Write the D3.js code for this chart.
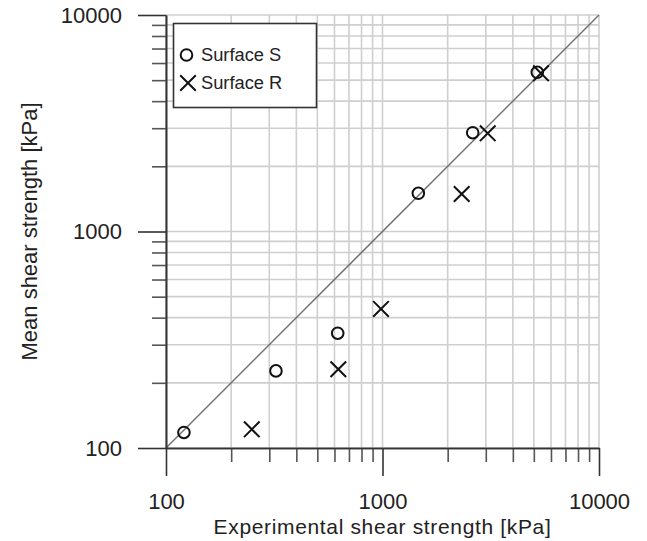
<!DOCTYPE html>
<html>
<head>
<meta charset="utf-8">
<script src="https://cdn.jsdelivr.net/npm/d3@7"></script>
<style>
  html, body { margin: 0; padding: 0; background: #fff; }
  svg { display: block; font-family: "Liberation Sans", Arial, sans-serif; }
</style>
</head>
<body>
<svg id="chart" width="647" height="541"></svg>
<script>
// Axis ticks (log scale, both axes identical)
const majorTicks = [100, 1000, 10000];
const minorTicks = [200, 300, 400, 500, 600, 700, 800, 900,
                    2000, 3000, 4000, 5000, 6000, 7000, 8000, 9000];
const tickLabels = ["100", "1000", "10000"];

// Surface S (circles)
const surfaceSX = [121, 322, 621, 1464, 2610, 5188];
const surfaceSY = [118, 227, 339, 1501, 2860, 5436];
// Surface R (crosses)
const surfaceRX = [249, 625, 984, 2321, 3062, 5397];
const surfaceRY = [122, 231, 439, 1490, 2841, 5379];

// 1:1 line end points
const equalityLine = [100, 10000];

const seriesNames = ["Surface S", "Surface R"];
const xTitle = "Experimental shear strength [kPa]";
const yTitle = "Mean shear strength [kPa]";

const svg = d3.select("#chart");
const plotL = 166, plotR = 599, plotT = 15, plotB = 448;

const x = d3.scaleLog().domain([100, 10000]).range([plotL, plotR]);
const y = d3.scaleLog().domain([100, 10000]).range([plotB, plotT]);

const gridValues = majorTicks.concat(minorTicks);

// grid
const grid = svg.append("g").attr("stroke", "#cfcfcf").attr("stroke-width", 1.6);
grid.selectAll("line.v").data(gridValues).join("line").attr("class", "v")
  .attr("x1", d => x(d)).attr("x2", d => x(d))
  .attr("y1", y(10000)).attr("y2", y(100));
grid.selectAll("line.h").data(gridValues).join("line").attr("class", "h")
  .attr("y1", d => y(d)).attr("y2", d => y(d))
  .attr("x1", x(100)).attr("x2", x(10000));

// 1:1 line
svg.append("line")
  .attr("x1", x(equalityLine[0])).attr("y1", y(equalityLine[0]))
  .attr("x2", x(equalityLine[1])).attr("y2", y(equalityLine[1]))
  .attr("stroke", "#707070").attr("stroke-width", 1.5);

// axes
const fmt = (d) => tickLabels[majorTicks.indexOf(d)];

function styleAxis(g, color) {
  g.selectAll("line").attr("stroke", color).attr("stroke-width", 1.6);
  g.select(".domain").attr("stroke", "#333").attr("stroke-width", 1.6);
  g.selectAll("text").attr("fill", "#222").attr("font-size", 22)
    .attr("font-family", "'Liberation Sans', Arial, sans-serif");
}

svg.append("g").attr("transform", `translate(0,${plotB})`)
  .call(d3.axisBottom(x).tickValues(minorTicks).tickSize(14).tickSizeOuter(0).tickFormat(""))
  .call(g => styleAxis(g, "#555"));
svg.append("g").attr("transform", `translate(0,${plotB})`)
  .call(d3.axisBottom(x).tickValues(majorTicks).tickSize(28).tickSizeOuter(0).tickPadding(17.4).tickFormat(fmt))
  .call(g => styleAxis(g, "#333"));

svg.append("g").attr("transform", `translate(${plotL},0)`)
  .call(d3.axisLeft(y).tickValues(minorTicks).tickSize(14).tickSizeOuter(0).tickFormat(""))
  .call(g => styleAxis(g, "#555"));
svg.append("g").attr("transform", `translate(${plotL},0)`)
  .call(d3.axisLeft(y).tickValues(majorTicks).tickSize(28).tickSizeOuter(0).tickPadding(16).tickFormat(fmt))
  .call(g => styleAxis(g, "#333"));

// axis titles
svg.append("text")
  .attr("x", (plotL + plotR) / 2).attr("y", 534)
  .attr("text-anchor", "middle").attr("font-size", 21).attr("letter-spacing", 0.65)
  .attr("fill", "#222")
  .text(xTitle);
svg.append("text")
  .attr("transform", `translate(36.5,${(plotT + plotB) / 2}) rotate(-90)`)
  .attr("text-anchor", "middle").attr("font-size", 22).attr("fill", "#222")
  .text(yTitle);

// markers
const circleR = 5.8, crossH = 7.8;
function crossPath(cx, cy, h) {
  return `M${cx - h},${cy - h}L${cx + h},${cy + h}M${cx - h},${cy + h}L${cx + h},${cy - h}`;
}

const sData = surfaceSX.map((v, i) => [v, surfaceSY[i]]);
const rData = surfaceRX.map((v, i) => [v, surfaceRY[i]]);

svg.append("g").selectAll("circle").data(sData).join("circle")
  .attr("cx", d => x(d[0])).attr("cy", d => y(d[1])).attr("r", circleR)
  .attr("fill", "none").attr("stroke", "#111").attr("stroke-width", 2);

svg.append("g").selectAll("path").data(rData).join("path")
  .attr("d", d => crossPath(x(d[0]), y(d[1]), crossH))
  .attr("fill", "none").attr("stroke", "#111").attr("stroke-width", 2);

// legend
const lg = svg.append("g");
lg.append("rect").attr("x", 173.5).attr("y", 23.5).attr("width", 143).attr("height", 84)
  .attr("fill", "#fff").attr("stroke", "#333").attr("stroke-width", 1.6);
lg.append("circle").attr("cx", 186.5).attr("cy", 55).attr("r", circleR)
  .attr("fill", "none").attr("stroke", "#111").attr("stroke-width", 2);
lg.append("path").attr("d", crossPath(188, 83, crossH))
  .attr("fill", "none").attr("stroke", "#111").attr("stroke-width", 2);
lg.append("text").attr("x", 201).attr("y", 61).attr("font-size", 18.3).attr("fill", "#222").text(seriesNames[0]);
lg.append("text").attr("x", 201).attr("y", 89).attr("font-size", 18.3).attr("fill", "#222").text(seriesNames[1]);
</script>
</body>
</html>
